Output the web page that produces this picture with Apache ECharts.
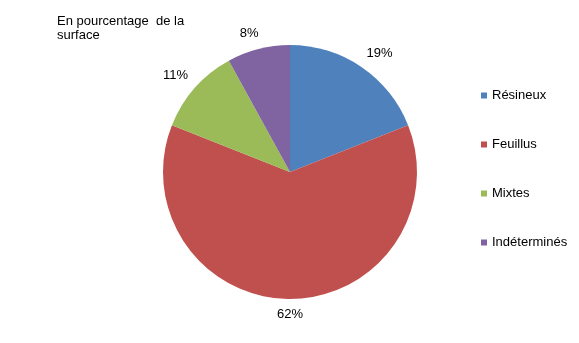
<!DOCTYPE html>
<html>
<head>
<meta charset="utf-8">
<script src="https://cdn.jsdelivr.net/npm/echarts@6/dist/echarts.min.js"></script>
<style>html,body{margin:0;padding:0;background:#fff;}#c{width:579px;height:343px;}</style>
</head>
<body>
<div id="c"></div>
<script>
const categories = ['Résineux', 'Feuillus', 'Mixtes', 'Indéterminés'];
const values = [19, 62, 11, 8];
const colors = ['#4F81BD', '#C0504D', '#9BBB59', '#8064A2'];
const titleText = 'En pourcentage  de la\nsurface';

const chart = echarts.init(document.getElementById('c'), null, {renderer: 'canvas'});
const font = 'Liberation Sans, Arial, sans-serif';
const GAP = 9;
const clamp = t => Math.max(-1, Math.min(1, t));
chart.setOption({
  animation: false,
  color: colors,
  title: {
    text: titleText,
    left: 57, top: 14, padding: 0,
    textStyle: {fontFamily: font, fontSize: 13, fontWeight: 'normal', color: '#000', lineHeight: 14}
  },
  legend: {
    orient: 'vertical',
    left: 481, top: 89, padding: 0,
    itemWidth: 6, itemHeight: 6,
    itemGap: 36,
    icon: 'rect',
    textStyle: {fontFamily: font, fontSize: 13, color: '#000', padding: [0,0,0,0]},
    data: categories
  },
  series: [{
    type: 'pie',
    center: [290, 172],
    radius: 127,
    startAngle: 90,
    clockwise: true,
    itemStyle: {borderWidth: 0},
    label: {
      show: true, position: 'outside',
      formatter: p => p.value + '%',
      fontFamily: font, fontSize: 13, color: '#000'
    },
    labelLine: {show: true, length: 10, length2: 0, lineStyle: {opacity: 0}},
    labelLayout: function (params) {
      const pts = params.labelLinePoints;
      if (!pts) return {};
      const p0 = pts[0], p1 = pts[1];
      let dx = p1[0] - p0[0], dy = p1[1] - p0[1];
      const len = Math.hypot(dx, dy) || 1;
      dx /= len; dy /= len;
      const w = params.labelRect.width, h = params.labelRect.height;
      const px = p0[0] + dx * GAP, py = p0[1] + dy * GAP;
      return {
        x: px + clamp(dx * 3) * w / 2,
        y: py + clamp(dy * 3) * h / 2,
        align: 'center', verticalAlign: 'middle'
      };
    },
    emphasis: {disabled: true},
    data: categories.map((c, i) => ({name: c, value: values[i]}))
  }]
});
</script>
</body>
</html>
